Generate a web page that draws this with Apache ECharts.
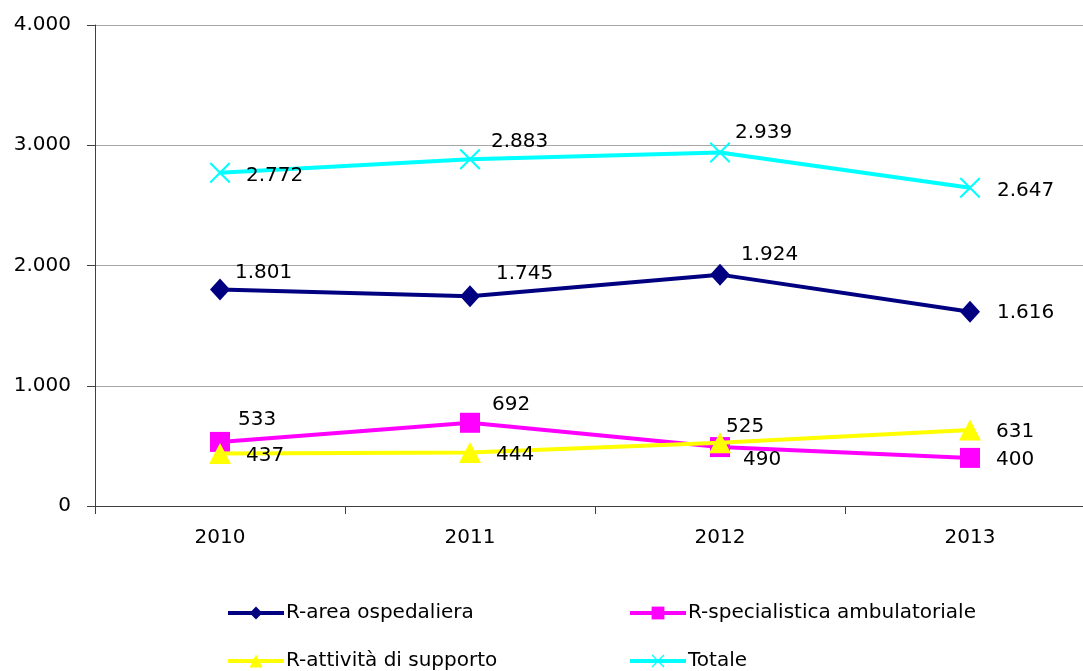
<!DOCTYPE html>
<html>
<head>
<meta charset="utf-8">
<script src="https://cdn.jsdelivr.net/npm/echarts@6/dist/echarts.min.js"></script>
<style>
html,body{margin:0;padding:0;background:#fff;overflow:hidden;width:1083px;height:671px;}
#chart{width:1095px;height:671px;}
</style>
</head>
<body>
<div id="chart"></div>
<script>
// ---- data ----
var categories = ['2010', '2011', '2012', '2013'];
var seriesNames = ['R-area ospedaliera', 'R-specialistica ambulatoriale', 'R-attività di supporto', 'Totale'];
var areaOspedaliera = [1801, 1745, 1924, 1616];
var specialistica = [533, 692, 490, 400];
var attivitaSupporto = [437, 444, 525, 631];
var totale = [2772, 2883, 2939, 2647];
var yTicks = [0, 1000, 2000, 3000, 4000];

// ---- label placement (layout only) ----
var labelOffsets = [
  [[15, -17], [26, -22], [21, -20], [27, 1]],
  [[18, -22], [22, -18], [23, 13], [26, 2]],
  [[26, 2], [26, 2], [6, -16], [26, 2]],
  [[26, 3], [21, -18], [15, -20], [27, 3]]
];
var colors = ['#000080', '#FF00FF', '#FFFF00', '#00FFFF'];
var crossPath = 'path://M0,7L7,0L50,43L93,0L100,7L57,50L100,93L93,100L50,57L7,100L0,93L43,50Z';
var symbols = ['diamond', 'rect', 'triangle', crossPath];
var symbolSizes = [[20, 22], [20, 20], [22, 21], [21, 21]];

function fmt(v) {
  return String(v).replace(/\B(?=(\d{3})+(?!\d))/g, '.');
}

var values = [areaOspedaliera, specialistica, attivitaSupporto, totale];
var FONT = 'DejaVu Sans';

var series = values.map(function (arr, si) {
  return {
    name: seriesNames[si],
    type: 'line',
    data: arr.map(function (v, i) {
      return { value: v, label: { offset: labelOffsets[si][i] } };
    }),
    symbol: symbols[si],
    symbolSize: symbolSizes[si],
    showAllSymbol: true,
    lineStyle: { color: colors[si], width: 4 },
    itemStyle: { color: colors[si], borderWidth: 0 },
    emphasis: { disabled: true },
    animation: false,
    z: 2 + si,
    label: {
      show: true,
      position: ['50%', '50%'],
      align: 'left',
      verticalAlign: 'middle',
      color: '#000',
      fontFamily: FONT,
      fontSize: 20,
      formatter: function (p) { return fmt(p.value); }
    }
  };
});

var legendPos = [[226, 603], [628, 603], [226, 651], [628, 651]];
var legends = seriesNames.map(function (n, i) {
  return {
    data: [n],
    left: legendPos[i][0],
    top: legendPos[i][1],
    padding: 0,
    itemWidth: 56,
    itemHeight: 16,
    itemGap: 0,
    selectedMode: false,
    lineStyle: { width: 4 },
    textStyle: { fontFamily: FONT, fontSize: 20, color: '#000', padding: [0, 0, 0, -3] }
  };
});

var chart = echarts.init(document.getElementById('chart'), null, { renderer: 'canvas' });
chart.setOption({
  backgroundColor: '#fff',
  animation: false,
  legend: legends,
  grid: { left: 95, top: 25, right: 0, height: 481, containLabel: false },
  xAxis: {
    type: 'category',
    data: categories,
    boundaryGap: true,
    axisLine: { lineStyle: { color: '#404040', width: 1 } },
    axisTick: { show: true, length: 8, lineStyle: { color: '#404040' } },
    axisLabel: { color: '#000', fontFamily: FONT, fontSize: 20, margin: 22 },
    splitLine: { show: false }
  },
  yAxis: {
    type: 'value',
    min: yTicks[0],
    max: yTicks[yTicks.length - 1],
    interval: 1000,
    axisLine: { show: true, lineStyle: { color: '#404040', width: 1 } },
    axisTick: { show: true, length: 8, lineStyle: { color: '#404040' } },
    axisLabel: { color: '#000', fontFamily: FONT, fontSize: 20, margin: 24, formatter: function (v) { return fmt(v); } },
    splitLine: { show: true, lineStyle: { color: '#a6a6a6', width: 1 } }
  },
  series: series
});
</script>
</body>
</html>
